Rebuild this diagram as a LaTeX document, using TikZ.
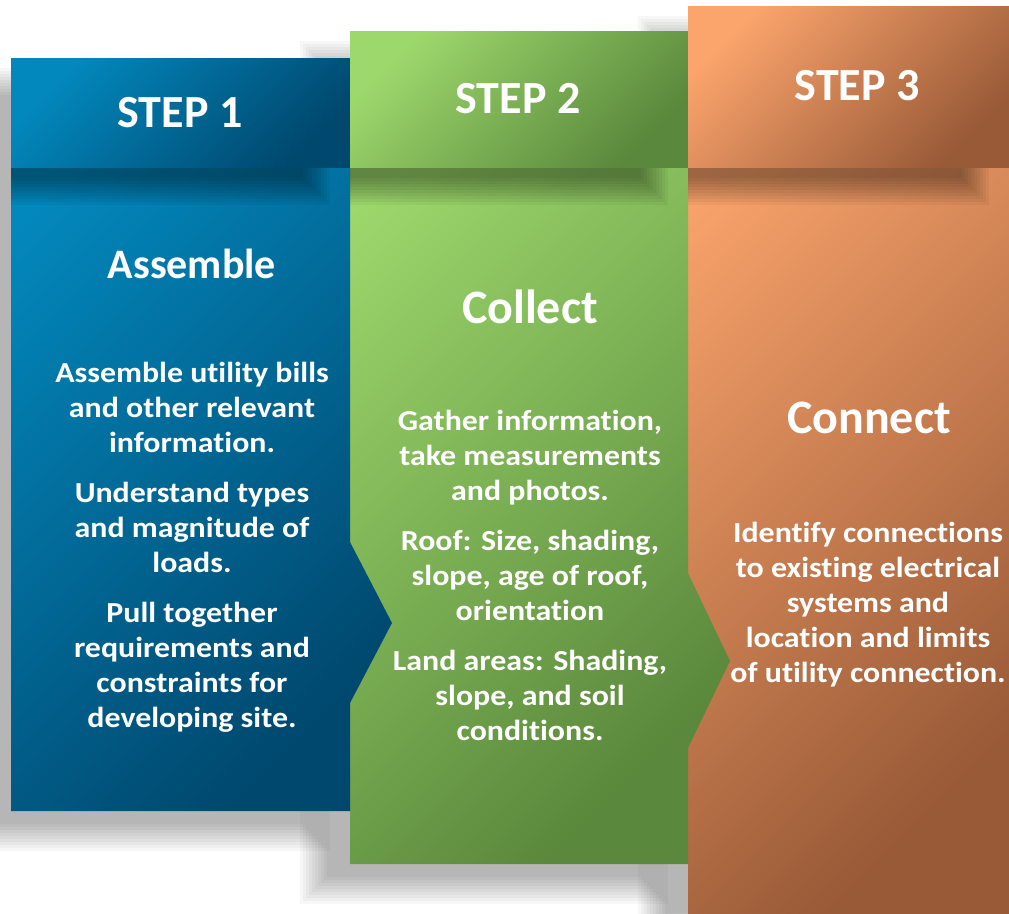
\documentclass[tikz,border=0pt]{standalone}
\usepackage{fontspec}
\setmainfont{Carlito}[Ligatures=NoCommon]
\newfontfamily\widefont{Carlito}[FakeStretch=1.1, Ligatures=NoCommon]

% column colours: light corner, dark corner
\definecolor{blueL}{HTML}{0388BD}
\definecolor{blueD}{HTML}{00486E}
\definecolor{greenL}{HTML}{9DD86C}
\definecolor{greenD}{HTML}{5A883C}
\definecolor{orangeL}{HTML}{FBA46C}
\definecolor{orangeD}{HTML}{995A37}

% soft shadow: core rectangle x1 y1 x2 y2, opacity of each layer
\newcommand{\softshadow}[5]{%
  \foreach \k in {0,...,9}
    \fill[black, opacity=#5] (#1-15+3*\k,#2-15+3*\k) rectangle (#3+15-3*\k,#4+15-3*\k);
}

\tikzset{
  steptitle/.style={anchor=base, text=white, font=\fontsize{46}{55}\selectfont\bfseries},
  headword/.style={anchor=base, text=white, font=\fontsize{48}{56}\selectfont\bfseries},
  % base of a multi-line node sits on its last line
  bodytext/.style={anchor=base, text=white, align=center, font=\widefont\fontsize{29}{35}\selectfont\bfseries},
}

\begin{document}
\begin{tikzpicture}[x=1pt, y=-1pt]
  \useasboundingbox[fill=white] (0,0) rectangle (1009,913);

  % drop shadows
  \softshadow{-24}{83}{315}{836}{0.032}
  \softshadow{315}{56}{653}{889}{0.032}
  \softshadow{653}{31}{974}{938}{0.032}

  % columns
  \path[top color=orangeL, bottom color=orangeD, shading angle=45]
    (688,6) rectangle (1009,913);
  \path[top color=greenL, bottom color=greenD, shading angle=45]
    (350,31) -- (688,31) -- (688,573) -- (730,661) -- (688,748) -- (688,864) -- (350,864) -- cycle;
  \path[top color=blueL, bottom color=blueD, shading angle=45]
    (11,58) -- (350,58) -- (350,542) -- (392,623) -- (350,703) -- (350,811) -- (11,811) -- cycle;

  % shadows under the header bands
  \begin{scope}
    \clip (11,167) rectangle (350,540);
    \softshadow{-24}{83}{315}{190}{0.045}
  \end{scope}
  \begin{scope}
    \clip (350,167) rectangle (688,570);
    \softshadow{315}{83}{653}{190}{0.045}
  \end{scope}
  \begin{scope}
    \clip (688,167) rectangle (1009,570);
    \softshadow{653}{83}{974}{190}{0.045}
  \end{scope}

  % header bands
  \path[top color=blueL, bottom color=blueD, shading angle=45] (11,58) rectangle (350,167);
  \path[top color=greenL, bottom color=greenD, shading angle=45] (350,31) rectangle (688,167);
  \path[top color=orangeL, bottom color=orangeD, shading angle=45] (688,6) rectangle (1009,167);

  % step labels
  \node[steptitle] (step1) at (180,127) {STEP 1};
  \node[steptitle] (step2) at (518,113) {STEP 2};
  \node[steptitle] (step3) at (857,100) {STEP 3};

  % key words
  \node[headword, font=\fontsize{42}{50}\selectfont\bfseries] (assemble) at (192,278) {Assemble};
  \node[headword] (collect) at (530,323) {Collect};
  \node[headword] (connect) at (869,433) {Connect};

  % descriptions
  \node[bodytext] (assembletxt) at (192,727) {Assemble utility bills\\ and other relevant\\ information.\\[15pt]
    Understand types\\ and magnitude of\\ loads.\\[15pt]
    Pull together\\ requirements and\\ constraints for\\ developing site.};
  \node[bodytext] (collecttxt) at (530,740) {Gather information,\\ take measurements\\ and photos.\\[15pt]
    Roof: Size, shading,\\ slope, age of roof,\\ orientation\\[15pt]
    Land areas: Shading,\\ slope, and soil\\ conditions.};
  \node[bodytext] (connecttxt) at (868,682) {Identify connections\\ to existing electrical\\ systems and\\ location and limits\\ of utility connection.};
\end{tikzpicture}
\end{document}
